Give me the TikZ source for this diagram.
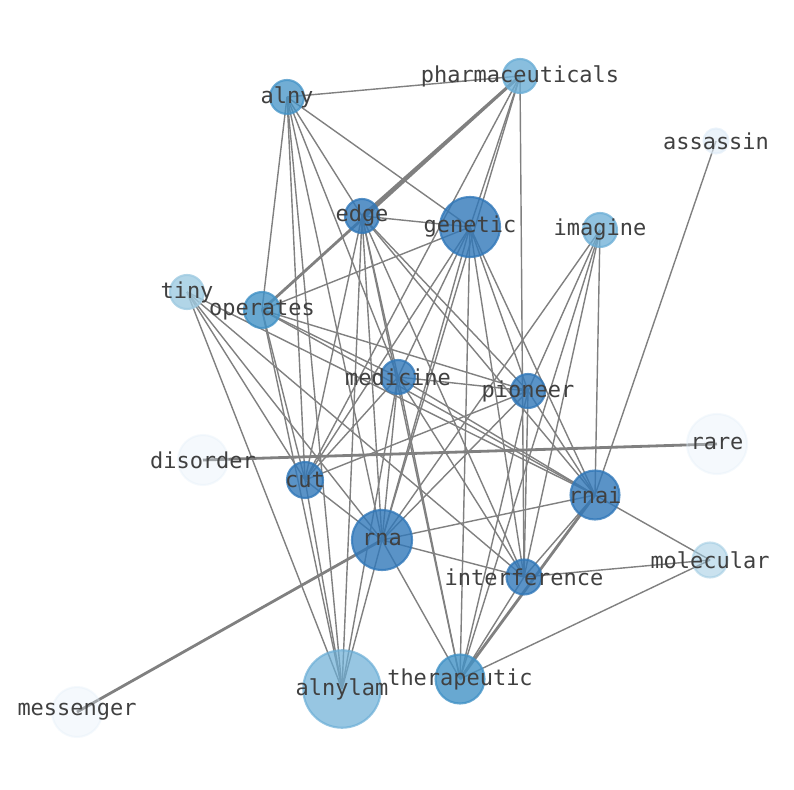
\documentclass[tikz,border=0pt]{standalone}
\usepackage{fontspec}
\setmonofont{DejaVu Sans Mono}
\usetikzlibrary{backgrounds}
\definecolor{dark}{RGB}{49,120,185}
\definecolor{mid}{RGB}{66,146,198}
\definecolor{light}{RGB}{107,174,214}
\definecolor{pale}{RGB}{158,202,225}
\definecolor{ghost}{RGB}{222,235,247}
\definecolor{labelcolor}{RGB}{64,64,64}
\tikzset{
  word/.style={circle,inner sep=0pt,minimum size=#1,line width=1.2pt},
  tag/.style={font=\ttfamily\fontsize{12.5}{14}\selectfont,text=labelcolor,inner sep=0pt},
  link/.style={draw=gray,line width=0.8pt},
  heavy/.style={draw=gray,line width=1.6pt}
}
\begin{document}
\begin{tikzpicture}[x=0.02cm,y=-0.02cm]
  \useasboundingbox (0,0) rectangle (794,790);
  % Words
  \node at(287,97)[word=0.68cm,fill=mid,draw=mid,opacity=0.75](alny){};
  \node at(520,76)[word=0.68cm,fill=light,draw=light,opacity=0.8](pharma){};
  \node at(716,141)[word=0.5cm,fill=ghost,draw=ghost,opacity=0.6](assassin){};
  \node at(362,216)[word=0.68cm,fill=dark,draw=dark,opacity=0.8](edge){};
  \node at(470,227)[word=1.2cm,fill=dark,draw=dark,opacity=0.8](genetic){};
  \node at(600,230)[word=0.68cm,fill=light,draw=light,opacity=0.75](imagine){};
  \node at(187,292)[word=0.68cm,fill=pale,draw=pale,opacity=0.8](tiny){};
  \node at(262,310)[word=0.72cm,fill=mid,draw=mid,opacity=0.8](operates){};
  \node at(398,377)[word=0.68cm,fill=dark,draw=dark,opacity=0.8](medicine){};
  \node at(528,391)[word=0.68cm,fill=dark,draw=dark,opacity=0.8](pioneer){};
  \node at(717,444)[word=1.2cm,fill=ghost,draw=ghost,opacity=0.3](rare){};
  \node at(203,460)[word=1cm,fill=ghost,draw=ghost,opacity=0.3](disorder){};
  \node at(305,480)[word=0.72cm,fill=dark,draw=dark,opacity=0.8](cut){};
  \node at(595,495)[word=0.98cm,fill=dark,draw=dark,opacity=0.8](rnai){};
  \node at(382,540)[word=1.2cm,fill=dark,draw=dark,opacity=0.8](rna){};
  \node at(710,560)[word=0.7cm,fill=pale,draw=pale,opacity=0.55](molecular){};
  \node at(524,577)[word=0.7cm,fill=dark,draw=dark,opacity=0.8](interference){};
  \node at(460,679)[word=0.98cm,fill=mid,draw=mid,opacity=0.8](therapeutic){};
  \node at(342,689)[word=1.55cm,fill=light,draw=light,opacity=0.7](alnylam){};
  \node at(77,712)[word=1cm,fill=ghost,draw=ghost,opacity=0.3](messenger){};
  % Labels
  \foreach \w/\t in {alny/alny,pharma/pharmaceuticals,assassin/assassin,edge/edge,genetic/genetic,
    imagine/imagine,tiny/tiny,operates/operates,medicine/medicine,pioneer/pioneer,rare/rare,
    disorder/disorder,cut/cut,rnai/rnai,rna/rna,molecular/molecular,interference/interference,
    therapeutic/therapeutic,alnylam/alnylam,messenger/messenger}
    \node[tag] at(\w.center)(\w-tag){\t};
  % Links
  \begin{scope}[on background layer]
    \foreach \a/\b in {alny/pharma,alny/genetic,alny/edge,alny/medicine,alny/operates,alny/cut,alny/alnylam,alny/rna,
      pharma/genetic,pharma/rna,pharma/interference,pharma/cut,
      edge/genetic,edge/cut,edge/rna,edge/alnylam,edge/medicine,edge/interference,edge/therapeutic,edge/pioneer,edge/rnai,
      genetic/operates,genetic/cut,genetic/rna,genetic/therapeutic,genetic/interference,genetic/pioneer,genetic/rnai,genetic/medicine,
      imagine/rna,imagine/rnai,imagine/interference,imagine/therapeutic,imagine/pioneer,
      tiny/cut,tiny/rna,tiny/interference,tiny/rnai,tiny/alnylam,
      operates/pioneer,operates/medicine,operates/rnai,operates/cut,operates/alnylam,
      medicine/pioneer,medicine/cut,medicine/rna,medicine/interference,medicine/therapeutic,medicine/alnylam,medicine/rnai,
      pioneer/cut,pioneer/rna,pioneer/interference,pioneer/therapeutic,pioneer/rnai,
      rna/rnai,rna/interference,rna/therapeutic,rna/alnylam,rna/cut,
      rnai/interference,rnai/molecular,rnai/assassin,
      molecular/interference,molecular/therapeutic,interference/therapeutic,cut/alnylam}
      \draw[link] (\a.center) -- (\b.center);
    \draw[heavy] (pharma.center) -- (edge.center);
    \draw[heavy] (pharma.center) -- (operates.center);
    \draw[heavy] (disorder.center) -- (rare.center);
    \draw[heavy] (rna.center) -- (messenger.center);
    \draw[heavy] (rnai.center) -- (therapeutic.center);
  \end{scope}
\end{tikzpicture}
\end{document}
